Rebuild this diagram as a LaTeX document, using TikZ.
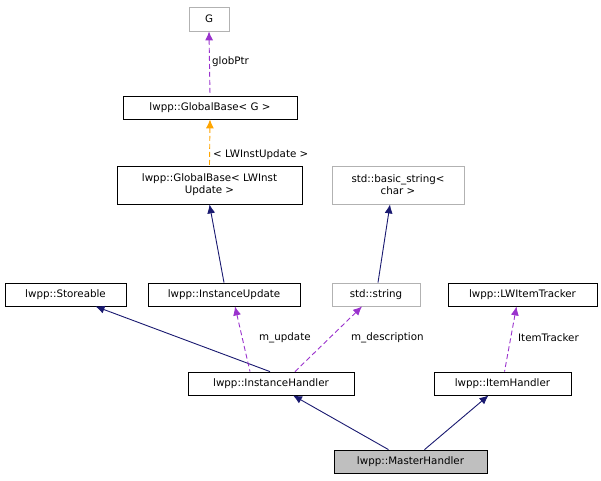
\documentclass[tikz,border=0pt]{standalone}
\usepackage{fontspec}
\setmainfont{DejaVu Sans}
\usetikzlibrary{arrows.meta}
\begin{document}
\begin{tikzpicture}[x=1pt,y=-1pt,font=\fontsize{10.3}{12}\selectfont,
 box/.style={draw=black,fill=white,inner sep=0pt,align=center,line width=0.8pt},
 gbox/.style={box,draw=gray!60},
 inh/.style={draw={rgb,255:red,25;green,25;blue,112},line width=0.9pt,{Latex[length=9pt,width=8pt]}-},
 use/.style={draw={rgb,255:red,154;green,50;blue,205},dash pattern=on 5pt off 3pt,line width=0.9pt,{Latex[length=9pt,width=8pt]}-},
 tpl/.style={draw={rgb,255:red,255;green,165;blue,0},dash pattern=on 5pt off 3pt,line width=0.9pt,{Latex[length=9pt,width=8pt]}-},
 lbl/.style={anchor=west,inner sep=0pt}]
\useasboundingbox (0,0) rectangle (601,480);
\node[gbox,minimum width=40,minimum height=24] (G) at (209,19) {G};
\node[box,minimum width=174,minimum height=23] (gbg) at (210,107.5) {lwpp::GlobalBase< G >};
\node[box,minimum width=185,minimum height=38] (gbl) at (209.5,185) {lwpp::GlobalBase< LWInst\\Update >};
\node[gbox,minimum width=132,minimum height=38] (bs) at (398,185) {std::basic\_string<\\char >};
\node[box,minimum width=121,minimum height=23] (st) at (65.5,294.5) {lwpp::Storeable};
\node[box,minimum width=152,minimum height=23] (iu) at (224,294.5) {lwpp::InstanceUpdate};
\node[gbox,minimum width=88,minimum height=23] (ss) at (376,294.5) {std::string};
\node[box,minimum width=149,minimum height=23] (lt) at (522.5,294.5) {lwpp::LWItemTracker};
\node[box,minimum width=166,minimum height=23] (ih) at (271,383.5) {lwpp::InstanceHandler};
\node[box,minimum width=137,minimum height=23] (it) at (502.5,383.5) {lwpp::ItemHandler};
\node[box,fill=gray!50,minimum width=153,minimum height=23] (mh) at (410.5,461.5) {lwpp::MasterHandler};
\draw[use] (G.south) -- (gbg.north);
\node[lbl] (l1) at (212,62) {globPtr};
\draw[tpl] (gbg.south) -- (gbl.north);
\node[lbl] (l2) at (213,155) {< LWInstUpdate >};
\draw[inh] ([xshift=0]gbl.south) -- ([xshift=0]iu.north);
\draw[inh] ([xshift=-8]bs.south) -- ([xshift=2]ss.north);
\draw[inh] ([xshift=30]st.south) -- ([xshift=-1]ih.north);
\draw[use] ([xshift=11]iu.south) -- ([xshift=-21]ih.north);
\node[lbl] (l3) at (259,338) {m\_update};
\draw[use] ([xshift=-14]ss.south) -- ([xshift=24]ih.north);
\node[lbl] (l4) at (351,338) {m\_description};
\draw[use] ([xshift=-6]lt.south) -- ([xshift=2]it.north);
\node[lbl] (l5) at (518,338) {ItemTracker};
\draw[inh] ([xshift=22]ih.south) -- ([xshift=-22]mh.north);
\draw[inh] ([xshift=-14]it.south) -- ([xshift=14]mh.north);
\end{tikzpicture}
\end{document}
